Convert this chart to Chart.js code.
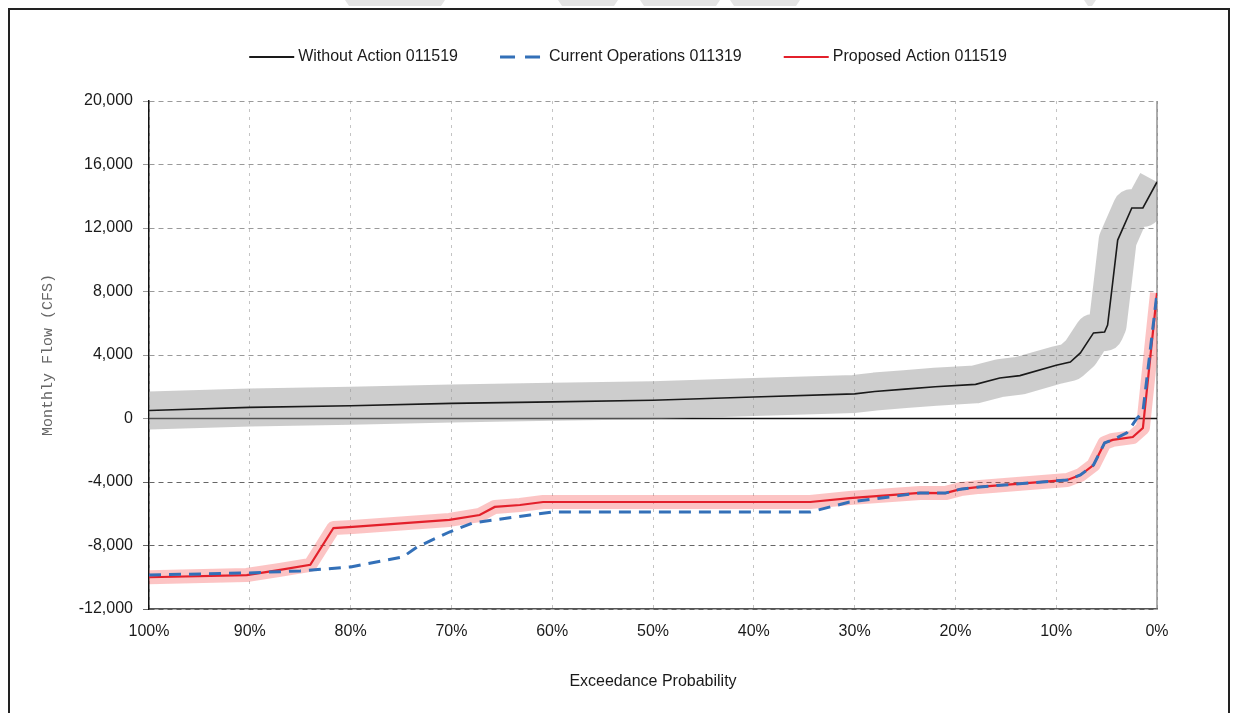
<!DOCTYPE html>
<html>
<head>
<meta charset="utf-8">
<title>Monthly Flow Exceedance</title>
<script src="https://cdn.jsdelivr.net/npm/chart.js@4.4.1/dist/chart.umd.min.js"></script>
<style>
  html, body { margin: 0; padding: 0; background: #ffffff; }
  #wrap { position: relative; width: 1239px; height: 713px; }
  canvas { display: block; }
</style>
</head>
<body>
<div id="wrap"><canvas id="flowChart" width="1239" height="713"></canvas></div>
<script>
// Exceedance probability (%) and monthly flow (CFS) for each scenario
const withoutActionProb = [100, 90, 80, 70, 60, 50, 40, 30, 28, 25, 22, 18, 15.6, 13.6, 10, 8.6, 7.6, 6.3, 5.2, 4.9, 4.4, 3.9, 2.5, 1.4, 0];
const withoutActionFlow = [500, 700, 800, 950, 1050, 1150, 1350, 1550, 1700, 1850, 2000, 2150, 2550, 2700, 3350, 3560, 4130, 5390, 5450, 5890, 8540, 11240, 13260, 13260, 14900];

const currentOpsProb = [100, 90.3, 85, 80, 74.8, 73.4, 70.2, 67.9, 62.2, 60, 34.4, 30.5, 23.5, 21, 19.5, 17.6, 8.9, 7.6, 6.3, 5.2, 4.4, 3.0, 2.0, 1.4, 0];
const currentOpsFlow = [-9860, -9730, -9600, -9350, -8720, -8090, -7150, -6580, -6080, -5890, -5890, -5260, -4690, -4700, -4450, -4310, -3870, -3560, -2930, -1540, -1350, -910, 0, 400, 7900];

const proposedProb = [100, 90.3, 87, 84, 81.7, 79.8, 70.2, 67.2, 65.7, 63.2, 60.9, 34.4, 30.5, 23.5, 21, 19.5, 17.6, 8.9, 7.6, 6.3, 5.2, 4.4, 2.4, 1.4, 0];
const proposedFlow = [-10000, -9860, -9540, -9220, -6900, -6830, -6390, -6080, -5570, -5450, -5260, -5260, -5010, -4690, -4700, -4450, -4310, -3870, -3560, -2930, -1540, -1350, -1170, -600, 7900];

// Axis settings
const probTicks = { min: 0, max: 100, step: 10 };
const flowTicks = { min: -12000, max: 20000, step: 4000 };

const seriesNames = ['Without Action 011519', 'Current Operations 011319', 'Proposed Action 011519'];

const toPoints = (xs, ys) => xs.map((x, i) => ({ x: x, y: ys[i] }));

const FONT = "'Liberation Sans', Arial, sans-serif";

// Page frame and faint header marks
const framePlugin = {
  id: 'frame',
  beforeDraw(chart) {
    const ctx = chart.ctx;
    ctx.save();
    ctx.fillStyle = '#ffffff';
    ctx.fillRect(0, 0, chart.width, chart.height);
    ctx.fillStyle = '#e4e4e4';
    [[345, 100], [558, 60], [640, 80], [730, 70], [1084, 12]].forEach(([x, w]) => {
      ctx.beginPath();
      ctx.moveTo(x, 0); ctx.lineTo(x + w, 0); ctx.lineTo(x + w - 4, 6); ctx.lineTo(x + 4, 6);
      ctx.closePath(); ctx.fill();
    });
    ctx.strokeStyle = '#222222';
    ctx.lineWidth = 2;
    ctx.strokeRect(9, 9, 1220, 720);
    ctx.restore();
  }
};

// Zero line and right edge of the plot
const refLinesPlugin = {
  id: 'refLines',
  beforeDatasetsDraw(chart) {
    const { ctx, chartArea, scales } = chart;
    const y0 = scales.y.getPixelForValue(0);
    const xr = scales.x.getPixelForValue(probTicks.min);
    ctx.save();
    ctx.strokeStyle = '#777777';
    ctx.lineWidth = 1.2;
    ctx.beginPath();
    ctx.moveTo(xr, chartArea.top);
    ctx.lineTo(xr, chartArea.bottom);
    ctx.stroke();
    ctx.strokeStyle = '#111111';
    ctx.lineWidth = 1.5;
    ctx.beginPath();
    ctx.moveTo(chartArea.left, y0);
    ctx.lineTo(chartArea.right, y0);
    ctx.stroke();
    ctx.restore();
  }
};

// Legend row above the plot
const legendRowPlugin = {
  id: 'legendRow',
  afterDraw(chart) {
    const ctx = chart.ctx;
    const items = chart.data.datasets.filter(d => !d.isBand).sort((a, b) => a.legendIndex - b.legendIndex);
    const lineLen = 45, textGap = 4, itemGap = 42, y = 57;
    ctx.save();
    ctx.font = '16px ' + FONT;
    const widths = items.map(d => lineLen + textGap + ctx.measureText(d.label).width);
    const total = widths.reduce((a, b) => a + b, 0) + itemGap * (items.length - 1);
    let x = 628 - total / 2;
    items.forEach((d, i) => {
      ctx.strokeStyle = d.borderColor;
      ctx.lineWidth = d.borderDash ? 3 : 2;
      ctx.setLineDash(d.borderDash ? [15, 10] : []);
      ctx.beginPath();
      ctx.moveTo(x, y);
      ctx.lineTo(x + lineLen, y);
      ctx.stroke();
      ctx.setLineDash([]);
      ctx.fillStyle = '#1a1a1a';
      ctx.textBaseline = 'middle';
      ctx.textAlign = 'left';
      ctx.fillText(d.label, x + lineLen + textGap, y);
      x += widths[i] + itemGap;
    });
    ctx.restore();
  }
};

const ctx = document.getElementById('flowChart').getContext('2d');
new Chart(ctx, {
  type: 'line',
  data: {
    datasets: [
      {
        label: seriesNames[0] + ' range',
        isBand: true,
        data: toPoints(withoutActionProb, withoutActionFlow),
        borderColor: 'rgba(150,150,150,0.48)',
        borderWidth: 38,
        borderJoinStyle: 'round',
        pointRadius: 0,
        clip: 0,
        order: 5
      },
      {
        label: seriesNames[0],
        legendIndex: 0,
        data: toPoints(withoutActionProb, withoutActionFlow),
        borderColor: '#1a1a1a',
        borderWidth: 1.6,
        pointRadius: 0,
        order: 4
      },
      {
        label: seriesNames[2] + ' range',
        isBand: true,
        data: toPoints(proposedProb, proposedFlow),
        borderColor: 'rgba(245,70,70,0.32)',
        borderWidth: 14,
        borderJoinStyle: 'round',
        pointRadius: 0,
        clip: 0,
        order: 3
      },
      {
        label: seriesNames[2],
        legendIndex: 2,
        data: toPoints(proposedProb, proposedFlow),
        borderColor: '#e3202b',
        borderWidth: 2.2,
        pointRadius: 0,
        order: 2
      },
      {
        label: seriesNames[1],
        legendIndex: 1,
        data: toPoints(currentOpsProb, currentOpsFlow),
        borderColor: '#3370b8',
        borderWidth: 3,
        borderDash: [12, 8],
        pointRadius: 0,
        order: 1
      }
    ]
  },
  options: {
    responsive: false,
    animation: false,
    devicePixelRatio: 1,
    layout: { padding: { top: 101, right: 82, bottom: 0, left: 0 } },
    elements: { line: { tension: 0 } },
    plugins: {
      legend: { display: false },
      tooltip: { enabled: false }
    },
    scales: {
      x: {
        type: 'linear',
        reverse: true,
        min: probTicks.min,
        max: probTicks.max,
        afterFit: (scale) => { scale.height = 104; },
        ticks: {
          stepSize: probTicks.step,
          padding: 13,
          color: '#1a1a1a',
          font: { family: FONT, size: 16 },
          callback: (v) => v + '%'
        },
        grid: { color: '#c4c4c4', lineWidth: 1, drawTicks: false },
        border: { display: true, color: '#555555', width: 1.5, dash: [3, 5] },
        title: {
          display: true,
          text: 'Exceedance Probability',
          color: '#1a1a1a',
          font: { family: FONT, size: 16 },
          padding: { top: 0, bottom: 22 }
        }
      },
      y: {
        min: flowTicks.min,
        max: flowTicks.max,
        afterFit: (scale) => { scale.width = 149; },
        ticks: {
          stepSize: flowTicks.step,
          padding: 10,
          color: '#1a1a1a',
          font: { family: FONT, size: 16 },
          callback: (v) => v.toLocaleString('en-US')
        },
        grid: {
          color: (c) => (c.tick && c.tick.value < 0 ? '#666666' : '#9a9a9a'),
          lineWidth: 1,
          tickLength: 6,
          tickBorderDash: [5, 4]
        },
        border: { display: true, color: '#111111', width: 1.5, dash: [5, 4] },
        title: {
          display: true,
          text: 'Monthly Flow (CFS)',
          color: '#666666',
          font: { family: "'Liberation Mono', 'DejaVu Sans Mono', monospace", size: 15 },
          padding: { top: 39, bottom: 0 }
        }
      }
    }
  },
  plugins: [framePlugin, refLinesPlugin, legendRowPlugin]
});
</script>
</body>
</html>
